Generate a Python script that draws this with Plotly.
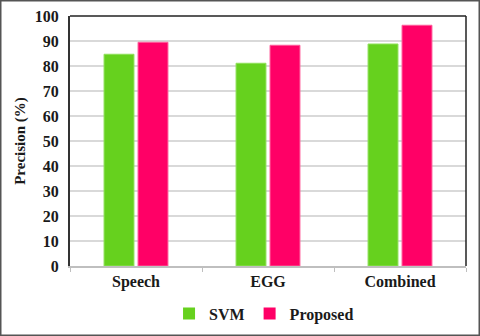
import plotly.graph_objects as go

categories = ["Speech", "EGG", "Combined"]
svm = [84.7, 81.1, 88.8]
proposed = [89.5, 88.3, 96.3]
y_ticks = list(range(0, 101, 10))

W, H = 480, 336
L, R, T, B = 70, 14, 16, 70
pw, ph = W - L - R, H - T - B

green, pink = "#66D11E", "#FF0066"
txt = "#1a1a1a"
serif = "Liberation Serif"

fig = go.Figure()
fig.add_trace(go.Bar(x=categories, y=svm, name="SVM", showlegend=False,
                     marker=dict(color=green, line=dict(color="#8fe05a", width=1))))
fig.add_trace(go.Bar(x=categories, y=proposed, name="Proposed", showlegend=False,
                     marker=dict(color=pink, line=dict(color="#ff5c9a", width=1))))
# legend entries with small square swatches
for name, col in [("SVM", green), ("Proposed", pink)]:
    fig.add_trace(go.Scatter(x=[None], y=[None], mode="markers", name=f"<b>{name}</b>",
                             marker=dict(symbol="square", size=9, color=col)))

fig.update_layout(
    width=W, height=H,
    margin=dict(l=L, r=R, t=T, b=B, autoexpand=False),
    paper_bgcolor="white", plot_bgcolor="white",
    barmode="group", bargap=0.485, bargroupgap=0.12,
    font=dict(family=serif, size=15, color=txt),
    showlegend=True,
    legend=dict(orientation="h", x=0.49, xanchor="center", y=-0.19, yanchor="middle",
                bgcolor="rgba(0,0,0,0)",
                font=dict(family=serif, size=16, color=txt),
                itemwidth=30, itemsizing="constant"),
)
fig.update_xaxes(
    showline=True, linecolor="#bfbfbf", linewidth=2,
    ticks="outside", tickson="boundaries", ticklen=4, tickcolor="#bfbfbf",
    tickvals=categories, ticktext=[f"<b>{c}</b>" for c in categories],
    tickfont=dict(family=serif, size=16, color=txt),
    showgrid=False,
)
fig.update_yaxes(
    range=[0, 100], tickvals=y_ticks, ticktext=[f"<b>{v}</b>" for v in y_ticks],
    ticks="", ticklabelstandoff=6,
    showline=True, linecolor="#333333", linewidth=2,
    gridcolor="#d9d9d9", gridwidth=1.5,
    tickfont=dict(family=serif, size=16, color=txt),
    title=dict(text="<b>Precision (%)</b>", font=dict(family=serif, size=15, color=txt), standoff=6),
    zeroline=False,
)

# top and right frame lines
fig.add_shape(type="line", xref="paper", yref="paper", x0=0, x1=1, y0=1, y1=1,
              line=dict(color="#222222", width=1.5))
fig.add_shape(type="line", xref="paper", yref="paper", x0=1, x1=1, y0=0, y1=1,
              line=dict(color="#222222", width=1.5))
# outer image border
fig.add_shape(type="rect", xref="paper", yref="paper",
              x0=(0.75 - L) / pw, x1=(W - 0.75 - L) / pw,
              y0=-(B - 0.75) / ph, y1=1 + (T - 0.75) / ph,
              line=dict(color="#555555", width=1.5))

fig.write_html("out.html", config={"displayModeBar": False},
               post_script="document.body.style.margin='0px';")
